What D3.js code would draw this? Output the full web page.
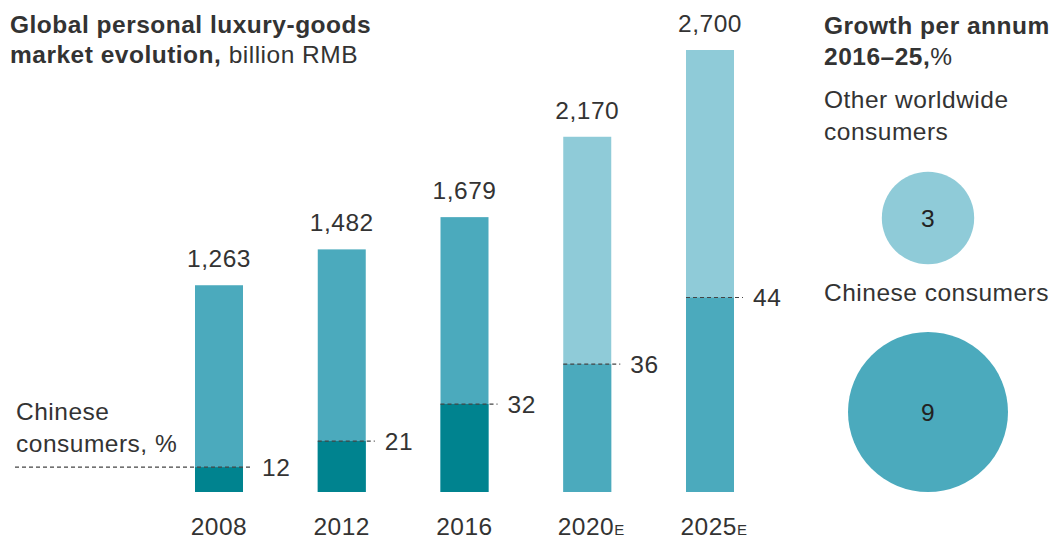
<!DOCTYPE html>
<html>
<head>
<meta charset="utf-8">
<script src="https://cdn.jsdelivr.net/npm/d3@7"></script>
<style>
  body { margin: 0; background: #fff; }
  text { font-family: "Liberation Sans", Arial, Helvetica, sans-serif; fill: #333; letter-spacing: 0.5px; }
</style>
</head>
<body>
<div id="content"></div>
<script>
// data
const years    = ["2008", "2012", "2016", "2020", "2025"];
const estimate = [false, false, false, true, true];
const totals   = [1263, 1482, 1679, 2170, 2700];
const chinaPct = [12, 21, 32, 36, 44];
const growthLabels = ["Other worldwide consumers", "Chinese consumers"];
const growthValues = [3, 9];

const W = 1055, H = 541;
const colDark = "#00838f", colMid = "#4baabd", colLight = "#8fcbd8";
const fs = "24.5px";

const svg = d3.select("#content").append("svg")
  .attr("width", W).attr("height", H);

const xScale = d3.scalePoint().domain(years).range([219, 710]);
const yScale = d3.scaleLinear().domain([0, 2700]).range([492, 50]);
const barW = 48;

const data = years.map((y, i) => ({
  year: y, est: estimate[i], total: totals[i], pct: chinaPct[i],
  china: totals[i] * chinaPct[i] / 100
}));

// title
const title = svg.append("text").attr("x", 10).attr("y", 33).style("font-size", fs);
title.append("tspan").attr("font-weight", "bold").text("Global personal luxury-goods");
const t2 = svg.append("text").attr("x", 10).attr("y", 63).style("font-size", fs);
t2.append("tspan").attr("font-weight", "bold").text("market evolution,");
t2.append("tspan").text(" billion RMB");

// bars: total (upper) and chinese share (lower)
const bars = svg.append("g");
bars.selectAll(".total").data(data).enter().append("rect")
  .attr("x", d => xScale(d.year) - barW / 2)
  .attr("y", d => yScale(d.total))
  .attr("width", barW)
  .attr("height", d => yScale(0) - yScale(d.total))
  .attr("fill", d => d.est ? colLight : colMid);

bars.selectAll(".china").data(data).enter().append("rect")
  .attr("x", d => xScale(d.year) - barW / 2)
  .attr("y", d => yScale(d.china))
  .attr("width", barW)
  .attr("height", d => yScale(0) - yScale(d.china))
  .attr("fill", d => d.est ? colMid : colDark);

// dashed share lines
svg.selectAll(".dash").data(data).enter().append("line")
  .attr("x1", (d, i) => i === 0 ? 15 : xScale(d.year) - barW / 2)
  .attr("x2", d => xScale(d.year) + barW / 2 + 9)
  .attr("y1", d => yScale(d.china))
  .attr("y2", d => yScale(d.china))
  .attr("stroke", "#444")
  .attr("stroke-width", 1.2)
  .attr("stroke-dasharray", "4,3");

svg.selectAll(".pct").data(data).enter().append("text")
  .attr("x", d => xScale(d.year) + barW / 2 + 19)
  .attr("y", d => yScale(d.china) + 8.5)
  .style("font-size", fs)
  .text(d => d.pct);

// total value labels
svg.selectAll(".val").data(data).enter().append("text")
  .attr("x", d => xScale(d.year))
  .attr("y", d => yScale(d.total) - 18)
  .attr("text-anchor", "middle")
  .style("font-size", fs)
  .text(d => d3.format(",")(d.total));

// year labels
const yl = svg.selectAll(".yr").data(data).enter().append("text")
  .attr("x", d => xScale(d.year) + (d.est ? 4 : 0))
  .attr("y", 535)
  .attr("text-anchor", "middle")
  .style("font-size", fs);
yl.append("tspan").text(d => d.year);
yl.filter(d => d.est).append("tspan").style("font-size", "15px").text("E");

// left annotation
svg.append("text").attr("x", 16).attr("y", 420).style("font-size", fs).text("Chinese");
svg.append("text").attr("x", 16).attr("y", 452).style("font-size", fs).text("consumers, %");

// growth panel
const g1 = svg.append("text").attr("x", 824).attr("y", 34).style("font-size", fs);
g1.append("tspan").attr("font-weight", "bold").text("Growth per annum");
const g2 = svg.append("text").attr("x", 824).attr("y", 65).style("font-size", fs);
g2.append("tspan").attr("font-weight", "bold").text("2016–25,");
g2.append("tspan").text("%");

svg.append("text").attr("x", 824).attr("y", 108).style("font-size", fs).text("Other worldwide");
svg.append("text").attr("x", 824).attr("y", 140).style("font-size", fs).text("consumers");
svg.append("text").attr("x", 824).attr("y", 301).style("font-size", fs).text(growthLabels[1]);

const rScale = d3.scaleSqrt().domain([0, 9]).range([0, 80]);
const circY = [218, 412];
const circ = svg.selectAll(".bubble").data(growthValues).enter().append("g")
  .attr("transform", (d, i) => "translate(928," + circY[i] + ")");
circ.append("circle")
  .attr("r", d => rScale(d))
  .attr("fill", (d, i) => i === 0 ? colLight : colMid);
circ.append("text")
  .attr("text-anchor", "middle")
  .attr("y", 8.5)
  .style("font-size", fs)
  .style("fill", "#222")
  .text(d => d);
</script>
</body>
</html>
